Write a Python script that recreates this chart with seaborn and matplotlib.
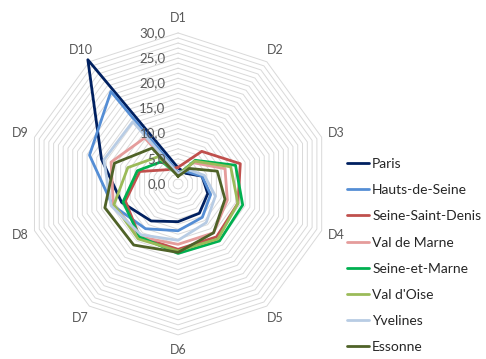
import numpy as np
import pandas as pd
import seaborn as sns
import matplotlib.pyplot as plt

categories = ["D1", "D2", "D3", "D4", "D5", "D6", "D7", "D8", "D9", "D10"]

paris = [3.2, 2.6, 5.0, 6.2, 7.2, 7.5, 9.1, 11.8, 16.0, 30.5]
hauts_de_seine = [2.3, 3.0, 5.0, 6.8, 8.2, 9.3, 11.0, 13.7, 18.5, 22.7]
seine_saint_denis = [3.3, 8.0, 13.0, 12.5, 13.0, 13.0, 13.0, 11.0, 8.0, 3.5]
val_de_marne = [2.0, 5.2, 9.8, 10.3, 12.0, 12.0, 13.0, 13.5, 14.0, 11.3]
seine_et_marne = [1.8, 5.8, 12.0, 13.5, 14.0, 13.8, 13.0, 11.5, 8.5, 5.5]
val_d_oise = [1.7, 5.6, 11.0, 12.5, 13.5, 13.3, 13.5, 13.4, 10.5, 6.7]
yvelines = [2.0, 3.5, 5.5, 7.8, 9.5, 11.2, 12.5, 14.0, 15.5, 15.3]
essonne = [1.5, 3.8, 8.2, 9.8, 12.0, 13.6, 15.0, 15.3, 13.3, 8.8]

regions = ["Paris", "Hauts-de-Seine", "Seine-Saint-Denis", "Val de Marne",
           "Seine-et-Marne", "Val d'Oise", "Yvelines", "Essonne"]
series = [paris, hauts_de_seine, seine_saint_denis, val_de_marne,
          seine_et_marne, val_d_oise, yvelines, essonne]
colors = ["#002060", "#558ed5", "#c0504d", "#e59c9b",
          "#00b050", "#9bbb59", "#b8cce4", "#4f6228"]

r_ticks = [0, 5, 10, 15, 20, 25, 30]

sns.set_theme(style="white")
plt.rcParams["font.family"] = ["Lato", "DejaVu Sans"]

n = len(categories)
angles = np.linspace(0, 2 * np.pi, n, endpoint=False)
closed = np.append(angles, 2 * np.pi)

rows = []
for name, vals in zip(regions, series):
    v = list(vals) + [vals[0]]
    for k, (t, val) in enumerate(zip(closed, v)):
        rows.append({"theta": t, "value": val, "region": name, "step": k})
df = pd.DataFrame(rows)

fig = plt.figure(figsize=(4.86, 3.59), dpi=100)
ax = fig.add_axes([0.035, 0.039, 0.6628, 0.8973], projection="polar")
ax.set_theta_zero_location("N")
ax.set_theta_direction(-1)
ax.set_ylim(0, 32)
ax.grid(False)
ax.set_xticks([])
ax.set_yticks([])
ax.spines["polar"].set_visible(False)
ax.patch.set_alpha(0)

# polygon gridlines every 1 unit
for g in range(1, 31):
    ax.plot(closed, [g] * len(closed), color="#d9d9d9", lw=0.7, zorder=0)

sns.lineplot(data=df, x="theta", y="value", hue="region", hue_order=regions,
             palette=colors, sort=False, estimator=None, lw=2.0, ax=ax,
             legend=True)
ax.set_xlabel("")
ax.set_ylabel("")

for t, lab in zip(angles, categories):
    ax.text(t, 33.0, lab, ha="center", va="center", fontsize=9, color="#595959")

for v in r_ticks:
    ax.annotate(f"{v:.1f}".replace(".", ","), xy=(0, v), xytext=(-9, 0),
                textcoords="offset points", ha="right", va="center",
                fontsize=9.5, color="#595959")

handles, labels = ax.get_legend_handles_labels()
ax.get_legend().remove()
fig.legend(handles, labels, loc="center left", bbox_to_anchor=(0.70, 0.288),
           frameon=False, fontsize=10, handlelength=1.6, handletextpad=0.2,
           labelspacing=1.02, borderpad=0, labelcolor="#262626")

fig.savefig("out.png", dpi=100)
